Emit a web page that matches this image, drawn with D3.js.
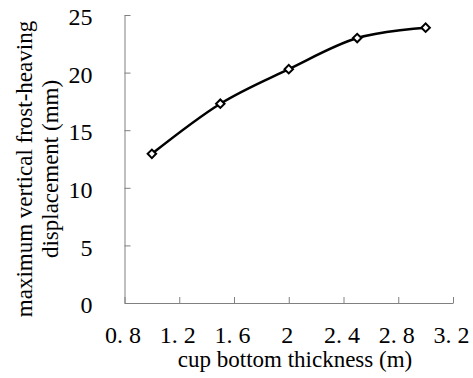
<!DOCTYPE html>
<html>
<head>
<meta charset="utf-8">
<script src="https://cdn.jsdelivr.net/npm/d3@7"></script>
<style>
  body { margin: 0; background: #fff; }
  svg { display: block; }
  .axis path, .axis line { stroke: #808080; }
  .axis text { font-family: "Liberation Serif", serif; font-size: 24px; fill: #000; }
  .title { font-family: "Liberation Serif", serif; font-size: 23px; fill: #000; }
</style>
</head>
<body>
<div id="chart"></div>
<script>
// DATA
var thickness = [1.0, 1.5, 2.0, 2.5, 3.0]
var displacement = [12.95, 17.3, 20.3, 23.0, 23.9]
var xTicks = [0.8, 1.2, 1.6, 2.0, 2.4, 2.8, 3.2]
var xTickLabels = ['0. 8', '1. 2', '1. 6', '2', '2. 4', '2. 8', '3. 2']
var yTicks = [0, 5, 10, 15, 20, 25]

var W = 473, H = 378
var margin = { top: 15, right: 20, bottom: 75, left: 124.5 }
var width = 453 - margin.left
var height = 303 - margin.top

var svg = d3.select('#chart')
  .append('svg')
  .attr('width', W)
  .attr('height', H)

var g = svg.append('g')
  .attr('transform', 'translate(' + margin.left + ',' + margin.top + ')')

// SCALES
var x = d3.scaleLinear().domain([0.8, 3.2]).range([0, width])
var y = d3.scaleLinear().domain([0, 25]).range([height, 0])

// X-AXIS
var xAxis = g.append('g')
  .attr('class', 'axis')
  .attr('transform', 'translate(0,' + height + ')')
  .call(d3.axisBottom(x)
    .tickValues(xTicks)
    .tickSize(-6)
    .tickPadding(23)
    .tickFormat(function(d, i) { return xTickLabels[i] }))
xAxis.select('.domain').attr('d', 'M0.5,0.5H' + (width + 0.5))
xAxis.selectAll('text')
  .attr('dy', '0.71em')
  .attr('dx', -2)
  .style('white-space', 'pre')

// Y-AXIS
var yAxis = g.append('g')
  .attr('class', 'axis')
  .call(d3.axisLeft(y)
    .tickValues(yTicks)
    .tickSize(-6)
    .tickPadding(32)
    .tickFormat(d3.format('d')))
yAxis.select('.domain').attr('d', 'M0.5,' + (height + 0.5) + 'V0.5')
yAxis.selectAll('text').attr('dy', '0.4em')

// LINE
var pts = thickness.map(function(t, i) { return [t, displacement[i]] })
var line = d3.line()
  .x(function(d) { return x(d[0]) })
  .y(function(d) { return y(d[1]) })
  .curve(d3.curveCardinal.tension(0))

g.append('path')
  .datum(pts)
  .attr('d', line)
  .attr('fill', 'none')
  .attr('stroke', '#000')
  .attr('stroke-width', 2.5)

// MARKERS (square turned 45deg)
g.selectAll('.pt')
  .data(pts)
  .enter()
  .append('path')
  .attr('class', 'pt')
  .attr('d', d3.symbol().type(d3.symbolSquare).size(36))
  .attr('transform', function(d) { return 'translate(' + x(d[0]) + ',' + y(d[1]) + ') rotate(45)' })
  .attr('fill', '#fff')
  .attr('stroke', '#000')
  .attr('stroke-width', 2)

// AXIS TITLES
svg.append('text')
  .attr('class', 'title')
  .attr('x', 295)
  .attr('y', 367)
  .attr('text-anchor', 'middle')
  .text('cup bottom thickness (m)')

var yt = svg.append('text')
  .attr('class', 'title')
  .attr('transform', 'translate(0,169) rotate(-90)')
  .attr('text-anchor', 'middle')
yt.append('tspan').attr('x', 0).attr('y', 32).text('maximum vertical frost-heaving')
yt.append('tspan').attr('x', 0).attr('y', 58).text('displacement (mm)')
</script>
</body>
</html>
